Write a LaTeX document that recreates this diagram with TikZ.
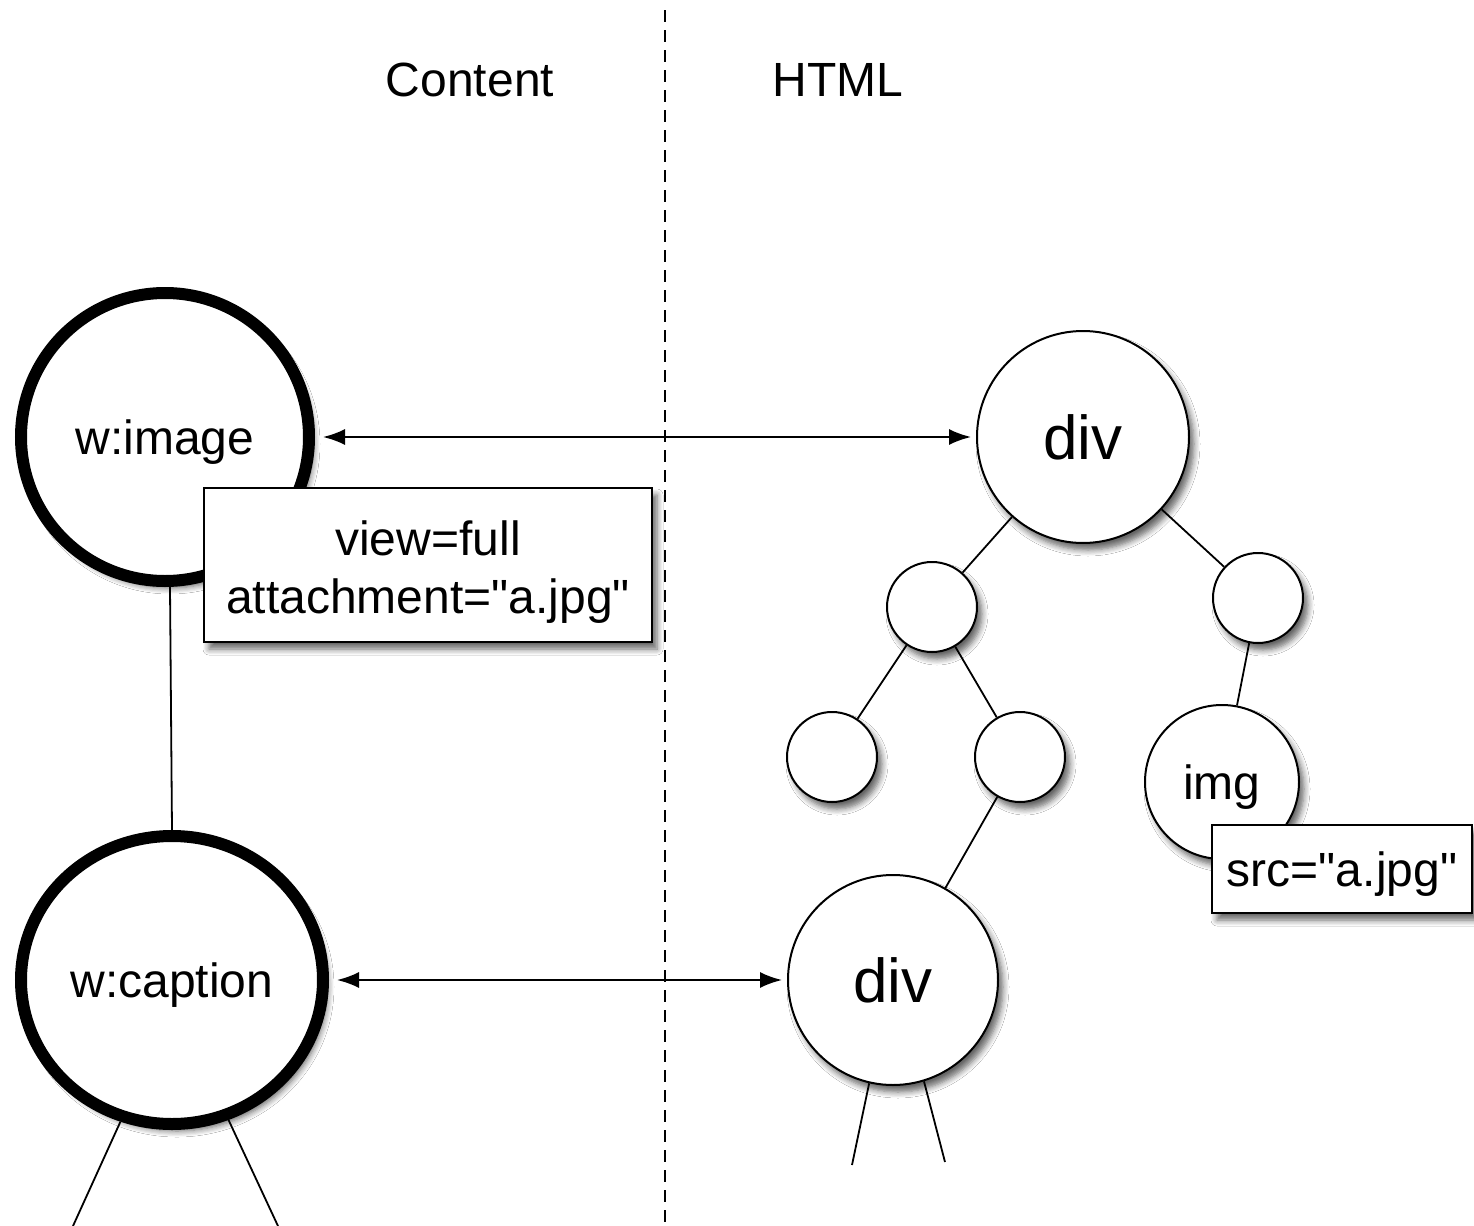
\documentclass[tikz,border=0pt]{standalone}
\usepackage{fontspec}
\setmainfont{Liberation Sans}[Ligatures=TeXOff]
\usetikzlibrary{shapes.geometric,arrows.meta,shadows.blur}
\tikzset{
  shad/.style={blur shadow={shadow xshift=2.5pt, shadow yshift=-3.5pt, shadow blur steps=6, shadow blur radius=3pt, shadow opacity=60}},
  bignode/.style={draw, line width=6pt, fill=white, shad, inner sep=0pt, text depth=0pt, font=\fontsize{24}{29}\selectfont},
  treenode/.style={circle, draw, line width=1pt, fill=white, shad, inner sep=0pt, text depth=0pt},
  attrbox/.style={rectangle, draw, line width=1pt, fill=white, shad, align=center, inner sep=0pt, font=\fontsize{24}{29}\selectfont},
  link/.style={line width=0.9pt},
  maparrow/.style={line width=1pt, {Latex[length=11pt,width=8pt]}-{Latex[length=11pt,width=8pt]}, shorten <=4pt, shorten >=2.5pt},
  sepline/.style={line width=1pt, dash pattern=on 6pt off 4pt},
  heading/.style={font=\fontsize{24}{29}\selectfont}
}
\begin{document}
\begin{tikzpicture}[x=0.5pt,y=-0.5pt]
\useasboundingbox (0,0) rectangle (1474,1226);
\fill[white] (0,0) rectangle (1474,1226);

% headings and separator
\node[heading] (content) at (470,80) {Content};
\node[heading] (html) at (838,80) {HTML};
\coordinate (septop) at (665,10);
\coordinate (sepbot) at (665,1226);
\draw[sepline] (septop) -- (sepbot);

% content side
\node[bignode, circle, minimum size=144pt] (wimage) at (165,437) {w:image};
\node[bignode, ellipse, minimum width=151pt, minimum height=144pt] (wcaption) at (172,980) {w:caption};

% html side tree
\node[treenode, minimum size=106pt, font=\fontsize{31}{36}\selectfont] (divtop) at (1083,437) {div};
\node[treenode, minimum size=45pt] (na) at (932,607) {};
\node[treenode, minimum size=45pt] (nb) at (1258,598) {};
\node[treenode, minimum size=45pt] (nc) at (832,757) {};
\node[treenode, minimum size=45pt] (nd) at (1020,757) {};
\node[treenode, minimum size=77pt, font=\fontsize{24}{29}\selectfont] (img) at (1222,782) {img};
\node[treenode, minimum size=105pt, font=\fontsize{31}{36}\selectfont] (divbot) at (893,980) {div};

% attribute boxes
\node[attrbox, minimum width=224pt, minimum height=77pt, text height=57.3pt, text depth=8.7pt] (attrs) at (428,565) {\strut view=full\\\strut attachment="a.jpg"};
\node[attrbox, minimum width=130pt, minimum height=44pt, text depth=0pt] (src) at (1342,869) {src="a.jpg"};

% tree links
\draw[link] ([xshift=2.5pt]wimage.south) -- (wcaption.north);
\draw[link] (divtop) -- (na);
\draw[link] (divtop) -- (nb);
\draw[link] (na) -- (nc);
\draw[link] (na) -- (nd);
\draw[link] (nb) -- (img);
\draw[link] (nd) -- (divbot);

% dangling links
\coordinate (cl) at (73,1226);
\coordinate (cr) at (278,1226);
\coordinate (dl) at (852,1165);
\coordinate (dr) at (945,1162);
\draw[link] (wcaption.250) -- (cl);
\draw[link] (wcaption.292) -- (cr);
\draw[link] (divbot.257) -- (dl);
\draw[link] (divbot.287) -- (dr);

% mapping arrows
\draw[maparrow] (wimage.east) -- (divtop.west);
\draw[maparrow] (wcaption.east) -- (divbot.west);
\end{tikzpicture}
\end{document}
